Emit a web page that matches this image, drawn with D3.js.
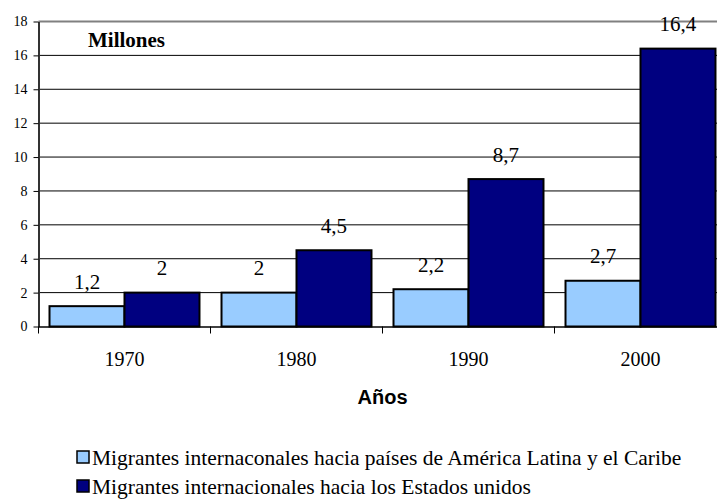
<!doctype html>
<html>
<head>
  <meta charset="utf-8">
  <script src="https://d3js.org/d3.v7.min.js"></script>
</head>
<body style="margin:0">
  <script type="text/javascript">
    var years = ["1970", "1980", "1990", "2000"];
    var latam = [1.2, 2, 2.2, 2.7];
    var usa = [2, 4.5, 8.7, 16.4];
    var seriesNames = ["Migrantes internaconales hacia países de América Latina y el Caribe",
                       "Migrantes internacionales hacia los Estados unidos"];
    var yTicks = [0, 2, 4, 6, 8, 10, 12, 14, 16, 18];

    var width = 717, height = 499;
    var colors = ["#99ccff", "#000080"];
    var SERIF = "Liberation Serif";
    var SANS = "Liberation Sans";

    var svg = d3.select("body").append("svg")
      .attr("width", width)
      .attr("height", height)
      .style("display", "block")
      .style("font-family", SERIF);

    // plot area runs past the right edge, like the original
    var x = d3.scaleBand().domain(years).range([38.5, 726.5]).paddingInner(0.128).paddingOuter(0.064);
    var y = d3.scaleLinear().domain([0, 18]).range([326.5, 21.5]);
    var xs = d3.scaleBand().domain([0, 1]).range([0, x.bandwidth()]);

    // gridlines
    svg.append("g").selectAll("line")
      .data(yTicks.filter(d => d > 0 && d < 18))
      .join("line")
      .attr("x1", 38.5).attr("x2", 726.5)
      .attr("y1", d => y(d)).attr("y2", d => y(d))
      .attr("stroke", "#000").attr("stroke-width", 1);

    // top border
    svg.append("line")
      .attr("x1", 38.5).attr("x2", 726.5)
      .attr("y1", y(18)).attr("y2", y(18))
      .attr("stroke", "#808080").attr("stroke-width", 2);

    // bars
    var series = [latam, usa];
    series.forEach(function(vals, s) {
      svg.append("g").selectAll("rect")
        .data(vals)
        .join("rect")
        .attr("x", (d, i) => x(years[i]) + xs(s))
        .attr("width", xs.bandwidth())
        .attr("y", d => y(d))
        .attr("height", d => y(0) - y(d))
        .attr("fill", colors[s])
        .attr("stroke", "#000")
        .attr("stroke-width", 2);

      svg.append("g").selectAll("text")
        .data(vals)
        .join("text")
        .attr("x", (d, i) => x(years[i]) + xs(s) + xs.bandwidth() / 2)
        .attr("y", d => y(d) - 17.5)
        .attr("text-anchor", "middle")
        .style("font-family", SERIF)
        .style("font-size", "21px")
        .text(d => String(d).replace(".", ","));
    });

    // y axis
    var yAxis = d3.axisLeft(y).tickValues(yTicks).tickSize(5).tickSizeOuter(0).tickPadding(6);
    var yg = svg.append("g").attr("transform", "translate(38.5,0)").call(yAxis);
    yg.attr("font-family", SERIF);
    yg.select(".domain").attr("stroke", "#333").attr("stroke-width", 2);
    yg.selectAll("text").style("font-family", SERIF).style("font-size", "14px").attr("fill", "#000");

    // x axis
    var xAxis = d3.axisBottom(x).tickSize(0).tickSizeOuter(0).tickPadding(25);
    var xg = svg.append("g").attr("transform", "translate(0," + y(0) + ")").call(xAxis);
    xg.attr("font-family", SERIF);
    xg.select(".domain").attr("stroke", "#000").attr("stroke-width", 1.5);
    xg.selectAll("text").style("font-family", SERIF).style("font-size", "20px").attr("fill", "#000");
    xg.selectAll(".sep").data(years).join("line")
      .attr("class", "sep")
      .attr("x1", d => x(d) - x.step() * x.paddingInner() / 2)
      .attr("x2", d => x(d) - x.step() * x.paddingInner() / 2)
      .attr("y1", 0).attr("y2", 7)
      .attr("stroke", "#000");

    svg.append("text")
      .attr("x", 382.5).attr("y", 404)
      .attr("text-anchor", "middle")
      .style("font-family", SANS)
      .style("font-weight", "bold")
      .style("font-size", "20px")
      .text("Años");

    svg.append("text")
      .attr("x", 88).attr("y", 47)
      .style("font-family", SERIF)
      .style("font-weight", "bold")
      .style("font-size", "21px")
      .text("Millones");

    // legend
    var leg = svg.append("g").selectAll("g")
      .data(seriesNames)
      .join("g")
      .attr("transform", (d, i) => "translate(77," + (465 + i * 29) + ")");
    leg.append("rect")
      .attr("y", -14)
      .attr("width", 12).attr("height", 12)
      .attr("fill", (d, i) => colors[i])
      .attr("stroke", "#000").attr("stroke-width", 1.5);
    leg.append("text")
      .attr("x", 15).attr("y", 0)
      .style("font-family", SERIF)
      .style("font-size", "21.5px")
      .text(d => d);
  </script>
</body>
</html>
